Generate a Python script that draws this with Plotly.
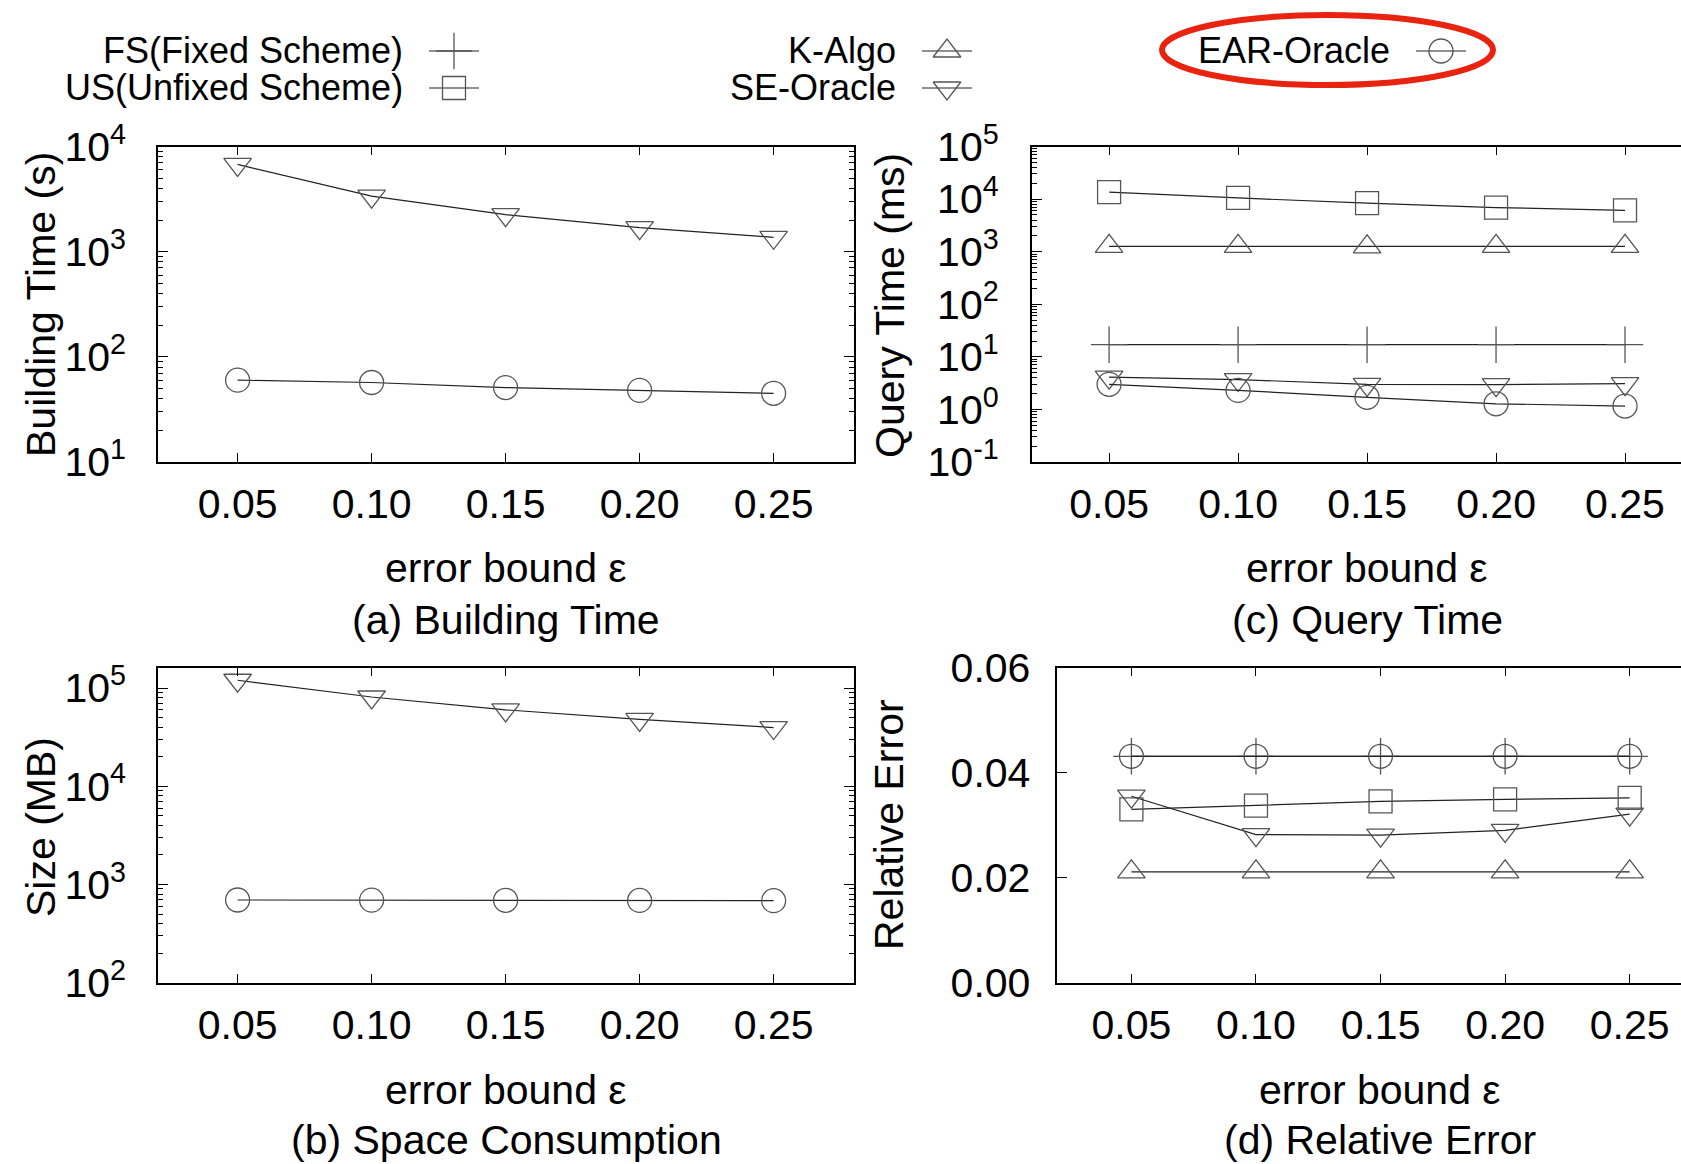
import plotly.graph_objects as go

# ---------------- data ----------------
eps = [0.05, 0.10, 0.15, 0.20, 0.25]
eps_labels = ["0.05", "0.10", "0.15", "0.20", "0.25"]

# (a) Building Time (s)
build_se = [6750, 3370, 2250, 1690, 1370]
build_ear = [60, 57, 51, 48, 45]

# (b) Space Consumption (MB)
size_se = [120000, 81000, 60000, 48000, 39600]
size_ear = [695, 693, 690, 688, 684]

# (c) Query Time (ms)
query_us = [13600, 10500, 8400, 6900, 6100]
query_k = [1260, 1260, 1230, 1260, 1260]
query_fs = [17, 17, 17, 17, 17]
query_se = [4.1, 3.7, 3.0, 2.95, 3.1]
query_ear = [3.0, 2.3, 1.7, 1.28, 1.16]

# (d) Relative Error
err_fs = [0.0431, 0.0431, 0.0431, 0.0431, 0.0431]
err_us = [0.0330, 0.0337, 0.0345, 0.0349, 0.0352]
err_k = [0.0211, 0.0211, 0.0211, 0.0211, 0.0211]
err_se = [0.0355, 0.0282, 0.0281, 0.0290, 0.0321]
err_ear = [0.0431, 0.0431, 0.0431, 0.0431, 0.0431]

series_names = ["FS(Fixed Scheme)", "US(Unfixed Scheme)", "K-Algo", "SE-Oracle", "EAR-Oracle"]

# ---------------- style ----------------
W, H = 1681, 1164
FONT = "Liberation Sans, Arial, Helvetica, sans-serif"
LINE_C = "#222222"
MARK_C = "#555555"
symbols = {
    "FS(Fixed Scheme)": "cross-thin-open",
    "US(Unfixed Scheme)": "square-open",
    "K-Algo": "triangle-up-open",
    "SE-Oracle": "triangle-down-open",
    "EAR-Oracle": "circle-open",
}
msize = {
    "FS(Fixed Scheme)": 26,
    "US(Unfixed Scheme)": 23,
    "K-Algo": 24,
    "SE-Oracle": 24,
    "EAR-Oracle": 24,
}


def px_x(v):
    return v / W


def px_y(v):
    return 1 - v / H


fig = go.Figure()


def add(name, x, y, xa, ya):
    fig.add_trace(go.Scatter(
        x=x, y=y, mode="lines", xaxis=xa, yaxis=ya, showlegend=False,
        line=dict(color=LINE_C, width=1.2), hoverinfo="skip"))
    fig.add_trace(go.Scatter(
        x=x, y=y, mode="markers", xaxis=xa, yaxis=ya, showlegend=False, name=name,
        marker=dict(symbol=symbols[name], size=msize[name], color=MARK_C,
                    line=dict(color=MARK_C, width=1.3))))


# (a)
add("SE-Oracle", eps, build_se, "x", "y")
add("EAR-Oracle", eps, build_ear, "x", "y")
# (b)
add("SE-Oracle", eps, size_se, "x2", "y2")
add("EAR-Oracle", eps, size_ear, "x2", "y2")
# (c)
add("US(Unfixed Scheme)", eps, query_us, "x3", "y3")
add("K-Algo", eps, query_k, "x3", "y3")
add("FS(Fixed Scheme)", eps, query_fs, "x3", "y3")
add("SE-Oracle", eps, query_se, "x3", "y3")
add("EAR-Oracle", eps, query_ear, "x3", "y3")
# (d)
add("FS(Fixed Scheme)", eps, err_fs, "x4", "y4")
add("EAR-Oracle", eps, err_ear, "x4", "y4")
add("US(Unfixed Scheme)", eps, err_us, "x4", "y4")
add("SE-Oracle", eps, err_se, "x4", "y4")
add("K-Algo", eps, err_k, "x4", "y4")

# ---------------- legend (manual, gnuplot style: text then sample) ----------------
legend_pos = {
    "FS(Fixed Scheme)": (405, 51),
    "US(Unfixed Scheme)": (405, 88),
    "K-Algo": (898, 51),
    "SE-Oracle": (898, 88),
    "EAR-Oracle": (1392, 51),
}
for name in series_names:
    tx, ty = legend_pos[name]
    x0, x1 = tx + 24, tx + 74
    fig.add_trace(go.Scatter(x=[x0, x1], y=[ty, ty], mode="lines", xaxis="x5", yaxis="y5",
                             showlegend=False, hoverinfo="skip",
                             line=dict(color=LINE_C, width=1.2)))
    fig.add_trace(go.Scatter(x=[(x0 + x1) / 2], y=[ty], mode="markers", xaxis="x5", yaxis="y5",
                             showlegend=False, hoverinfo="skip",
                             marker=dict(symbol=symbols[name], size=msize[name], color=MARK_C,
                                         line=dict(color=MARK_C, width=1.3))))
    fig.add_annotation(x=px_x(tx), y=px_y(ty), xref="paper", yref="paper", text=name,
                       showarrow=False, xanchor="right", yanchor="middle",
                       font=dict(size=36, color="black", family=FONT))

# ---------------- axes ----------------
TICKFONT = dict(size=41, color="black", family=FONT)


def xaxis_cfg(dom, rng):
    return dict(domain=dom, range=rng, tickvals=eps, ticktext=eps_labels,
                ticks="inside", ticklen=9, tickwidth=1, tickcolor="black",
                showline=True, linecolor="black", linewidth=1.6, mirror="allticks",
                showgrid=False, zeroline=False, tickfont=TICKFONT, ticklabelstandoff=5,
                automargin=False, fixedrange=True)


def log_yaxis_cfg(dom, rng, exps, mirror=True, standoff=22):
    return dict(domain=dom, type="log", range=rng,
                tickvals=[10 ** e for e in exps],
                ticktext=["10<sup>%d</sup>" % e for e in exps],
                ticks="inside", ticklen=10, tickwidth=1, tickcolor="black",
                minor=dict(ticks="inside", ticklen=5, dtick="D1", tickcolor="black", tickwidth=1),
                showline=True, linecolor="black", linewidth=1.6,
                mirror="allticks" if mirror else False,
                showgrid=False, zeroline=False, tickfont=TICKFONT, ticklabelstandoff=standoff,
                automargin=False, fixedrange=True)


dom_left = [px_x(158), px_x(854)]
dom_top = [px_y(462), px_y(146.5)]
dom_bot = [px_y(982.7), px_y(667.5)]

fig.update_layout(
    width=W, height=H,
    margin=dict(l=0, r=0, t=0, b=0, pad=0, autoexpand=False),
    paper_bgcolor="white", plot_bgcolor="white",
    font=dict(family=FONT, color="black"),
    showlegend=False,
    xaxis=dict(xaxis_cfg(dom_left, [0.0203, 0.2800]), anchor="y"),
    yaxis=dict(log_yaxis_cfg(dom_top, [1, 4], [1, 2, 3, 4]), anchor="x"),
    xaxis2=dict(xaxis_cfg(dom_left, [0.0203, 0.2800]), anchor="y2"),
    yaxis2=dict(log_yaxis_cfg(dom_bot, [2, 5.209], [2, 3, 4, 5]), anchor="x2"),
    xaxis3=dict(xaxis_cfg([px_x(1031.7), 1.0], [0.0200, 0.2717]), anchor="y3"),
    yaxis3=dict(log_yaxis_cfg(dom_top, [-1, 5], [-1, 0, 1, 2, 3, 4, 5], mirror=False, standoff=23),
                anchor="x3"),
    xaxis4=dict(xaxis_cfg([px_x(1057.4), 1.0], [0.0203, 0.2706]), anchor="y4"),
    yaxis4=dict(domain=dom_bot, range=[0, 0.06], tickvals=[0, 0.02, 0.04, 0.06],
                ticktext=["0.00", "0.02", "0.04", "0.06"],
                ticks="inside", ticklen=10, tickwidth=1, tickcolor="black",
                showline=True, linecolor="black", linewidth=1.6, mirror=False,
                showgrid=False, zeroline=False, tickfont=TICKFONT, ticklabelstandoff=17,
                anchor="x4", automargin=False, fixedrange=True),
    xaxis5=dict(domain=[0, 1], range=[0, W], visible=False, anchor="y5", fixedrange=True,
                automargin=False),
    yaxis5=dict(domain=[px_y(130), 1], range=[130, 0], visible=False, anchor="x5", fixedrange=True,
                automargin=False),
)

# ---------------- titles / captions ----------------
LBL = dict(size=41, color="black", family=FONT)


def ann(x, y, text, angle=0):
    fig.add_annotation(x=px_x(x), y=px_y(y), xref="paper", yref="paper", text=text,
                       showarrow=False, xanchor="center", yanchor="middle",
                       textangle=angle, font=LBL)


ann(41, 305, "Building Time (s)", -90)
ann(41, 827, "Size (MB)", -90)
ann(890, 306, "Query Time (ms)", -90)
ann(889, 825, "Relative Error", -90)

ann(506, 568, "error bound ε")
ann(506, 620, "(a) Building Time")
ann(1367, 568, "error bound ε")
ann(1367, 620, "(c) Query Time")
ann(506, 1090, "error bound ε")
ann(506, 1140, "(b) Space Consumption")
ann(1380, 1090, "error bound ε")
ann(1380, 1140, "(d) Relative Error")

# red highlight ellipse around EAR-Oracle legend entry
fig.add_shape(type="circle", xref="paper", yref="paper",
              x0=px_x(1162), x1=px_x(1493), y0=px_y(85), y1=px_y(15),
              line=dict(color="#e8230f", width=6), fillcolor="rgba(0,0,0,0)")

fig.write_html("out.html", config={"displayModeBar": False},
               post_script="document.body.style.margin='0px';document.body.style.overflow='hidden';")
